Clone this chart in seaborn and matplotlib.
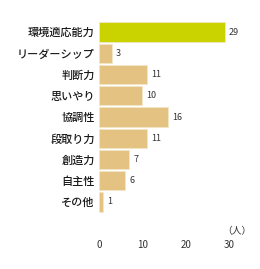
import matplotlib
matplotlib.use("Agg")
import matplotlib.pyplot as plt
import seaborn as sns
import pandas as pd

categories = ["環境適応能力", "リーダーシップ", "判断力", "思いやり", "協調性", "段取り力", "創造力", "自主性", "その他"]
values = [29, 3, 11, 10, 16, 11, 7, 6, 1]
x_ticks = [0, 10, 20, 30]
unit_label = "（人）"

sns.set_theme(style="white")
plt.rcParams['font.family'] = ['Noto Sans CJK JP', 'DejaVu Sans']

df = pd.DataFrame({"cat": categories, "val": values})
palette = ["#cad300"] + ["#e4c382"] * (len(categories) - 1)

fig = plt.figure(figsize=(2.6, 2.69), dpi=100)
ax = fig.add_axes([99/260, 1 - 212.6/269, 130/260, (212.6 - 21.4)/269])
sns.barplot(data=df, x="val", y="cat", hue="cat", palette=palette, legend=False,
            width=0.9, saturation=1, ax=ax, edgecolor="#f3e6c8", linewidth=0.6)
for c in ax.containers:
    ax.bar_label(c, fmt="%d", padding=3, fontsize=6.5, color="#333333")

ax.set_xlim(0, 30)
ax.set_ylim(8.5, -0.5)
ax.set_xticks(x_ticks)
ax.set_xticklabels([str(t) for t in x_ticks], fontsize=7, color="#333333")
ax.tick_params(axis="x", length=0, pad=20)
ax.tick_params(axis="y", length=0, pad=3)
for lab in ax.get_yticklabels():
    lab.set_fontsize(8)
    lab.set_fontweight("medium")
    lab.set_color("#1a1a1a")
ax.set_xlabel("")
ax.set_ylabel("")
for s in ax.spines.values():
    s.set_visible(False)
fig.text(237/260, 1 - 231/269, unit_label, fontsize=7, ha="center", va="center", color="#333333")
fig.savefig("out.png", dpi=100)
